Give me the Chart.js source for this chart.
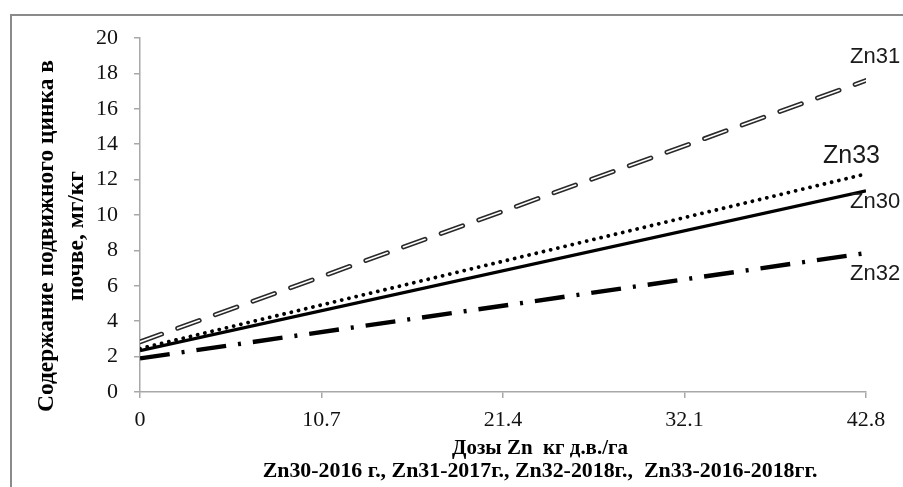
<!DOCTYPE html>
<html><head><meta charset="utf-8">
<script src="https://cdn.jsdelivr.net/npm/chart.js@4"></script>
<style>
html,body{margin:0;padding:0;background:#fff;overflow:hidden;width:903px;height:487px}
#wrap{position:absolute;left:0;top:0;width:903px;height:487px}
#frame{position:absolute;left:10px;top:14px;width:1000px;height:600px;border-left:2px solid #8a8a8a;border-top:2px solid #8a8a8a;pointer-events:none}
</style></head>
<body>
<div id="wrap"><canvas id="c" width="903" height="487"></canvas></div>
<div id="frame"></div>
<script>
// ---- data ----
const doses = [0, 42.8];
const xTickLabels = ['0', '10.7', '21.4', '32.1', '42.8'];
const yTickValues = [0, 2, 4, 6, 8, 10, 12, 14, 16, 18, 20];
const zn30 = [2.33, 11.36];
const zn31 = [2.83, 17.6];
const zn32 = [1.9, 7.85];
const zn33 = [2.45, 12.32];
const seriesNames = ['Zn30', 'Zn31', 'Zn32', 'Zn33'];
const xTitle = 'Дозы Zn  кг д.в./га';
const xSubTitle = 'Zn30-2016 г., Zn31-2017г., Zn32-2018г.,  Zn33-2016-2018гг.';
const yTitle = ['Содержание подвижного цинка в', 'почве, мг/кг'];

const pts = arr => doses.map((d, i) => ({x: d, y: arr[i]}));

// note: Chart.js draws dataset 0 on top
const base = {pointRadius: 0, pointHoverRadius: 0, fill: false, tension: 0};
const datasets = [
  Object.assign({}, base, {label: seriesNames[1] + '_inner', data: pts(zn31), borderColor: '#ffffff', borderWidth: 1.6, borderDash: [23, 17], borderCapStyle: 'round'}),
  Object.assign({}, base, {label: seriesNames[1], data: pts(zn31), borderColor: '#2a2a2a', borderWidth: 4.8, borderDash: [23, 17], borderCapStyle: 'round'}),
  Object.assign({}, base, {label: seriesNames[3], data: pts(zn33), borderColor: '#000000', borderWidth: 3.8, borderDash: [0.01, 7.4], borderCapStyle: 'round'}),
  Object.assign({}, base, {label: seriesNames[0], data: pts(zn30), borderColor: '#000000', borderWidth: 3.2}),
  Object.assign({}, base, {label: seriesNames[2], data: pts(zn32), borderColor: '#000000', borderWidth: 4.4, borderDash: [30, 12, 3, 12], borderCapStyle: 'butt'})
];

function fitText(ctx, text, weight, family, target) {
  ctx.font = weight + ' 20px ' + family;
  const w = ctx.measureText(text).width;
  const size = 20 * target / w;
  ctx.font = weight + ' ' + size.toFixed(2) + 'px ' + family;
}

const endLabels = {
  id: 'endLabels',
  afterDatasetsDraw(chart) {
    const ctx = chart.ctx, xs = chart.scales.x, ys = chart.scales.y;
    const xe = xs.getPixelForValue(doses[doses.length - 1]);
    const items = [
      {t: seriesNames[1], v: zn31[zn31.length - 1], dx: -16, dy: -17, f: '22px "Liberation Sans"'},
      {t: seriesNames[3], v: zn33[zn33.length - 1], dx: -43, dy: -11, f: '25px "Liberation Sans"'},
      {t: seriesNames[0], v: zn30[zn30.length - 1], dx: -16, dy: 17, f: '22px "Liberation Sans"'},
      {t: seriesNames[2], v: zn32[zn32.length - 1], dx: -16, dy: 27, f: '22px "Liberation Sans"'}
    ];
    ctx.save();
    ctx.fillStyle = '#1a1a1a';
    ctx.textAlign = 'left';
    ctx.textBaseline = 'alphabetic';
    items.forEach(it => {
      ctx.font = it.f;
      ctx.fillText(it.t, xe + it.dx, ys.getPixelForValue(it.v) + it.dy);
    });
    // axis titles
    ctx.fillStyle = '#000';
    ctx.textAlign = 'center';
    fitText(ctx, xTitle, 'bold', '"Liberation Serif"', 176);
    ctx.fillText(xTitle, 540, 454);
    fitText(ctx, xSubTitle, 'bold', '"Liberation Serif"', 555);
    ctx.fillText(xSubTitle, 540, 477);
    ctx.translate(47, 236);
    ctx.rotate(-Math.PI / 2);
    ctx.textBaseline = 'middle';
    fitText(ctx, yTitle[0], 'bold', '"Liberation Serif"', 352);
    ctx.fillText(yTitle[0], 0, 0);
    ctx.fillText(yTitle[1], 0, 30);
    ctx.restore();
  }
};

const axisColor = '#a8a8a8';
new Chart(document.getElementById('c'), {
  type: 'line',
  data: {datasets},
  options: {
    responsive: false,
    animation: false,
    devicePixelRatio: 1,
    layout: {padding: {left: 0, top: 38, right: 37, bottom: 0}},
    plugins: {legend: {display: false}, tooltip: {enabled: false}},
    scales: {
      x: {
        type: 'linear', min: 0, max: 42.8,
        afterBuildTicks: s => { s.ticks = xTickLabels.map(t => ({value: parseFloat(t)})); },
        afterFit: s => { s.height = 95; },
        ticks: {color: '#111', font: {family: '"Liberation Serif"', size: 22}, padding: 9, maxRotation: 0,
          callback: (v) => xTickLabels.find(t => parseFloat(t) === v)},
        grid: {drawOnChartArea: false, drawTicks: true, tickLength: 6, color: axisColor, lineWidth: 1.5},
        border: {display: true, color: axisColor, width: 1.5}
      },
      y: {
        min: 0, max: 20,
        afterBuildTicks: s => { s.ticks = yTickValues.map(v => ({value: v})); },
        afterFit: s => { s.width = 140; },
        ticks: {color: '#111', font: {family: '"Liberation Serif"', size: 22}, padding: 16},
        grid: {drawOnChartArea: false, drawTicks: true, tickLength: 6, color: axisColor, lineWidth: 1.5},
        border: {display: true, color: axisColor, width: 1.5}
      }
    }
  },
  plugins: [endLabels]
});
</script>
</body></html>
